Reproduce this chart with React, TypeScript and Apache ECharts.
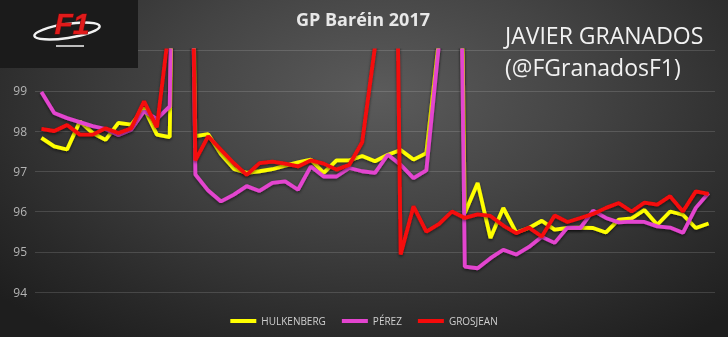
import React, { useEffect, useRef } from "react";
import * as echarts from "echarts";

const laps = [
  "1", "2", "3", "4", "5", "6", "7", "8", "9", "10",
  "11", "12", "13", "14", "15", "16", "17", "18", "19", "20",
  "21", "22", "23", "24", "25", "26", "27", "28", "29", "30",
  "31", "32", "33", "34", "35", "36", "37", "38", "39", "40",
  "41", "42", "43", "44", "45", "46", "47", "48", "49", "50",
  "51", "52", "53",
];

const hulkenberg = [
  97.83, 97.62, 97.54, 98.24, 97.95, 97.78, 98.2, 98.16, 98.57, 97.91,
  97.85, 120, 97.87, 97.92, 97.42, 97.06, 96.96, 97.0, 97.05, 97.14,
  97.22, 97.29, 96.96, 97.27, 97.27, 97.38, 97.25, 97.41, 97.53, 97.29,
  97.45, 100.3, 120, 95.96, 96.71, 95.34, 96.09, 95.48, 95.59, 95.77,
  95.55, 95.59, 95.6, 95.59, 95.48, 95.8, 95.83, 96.04, 95.67, 96.0,
  95.92, 95.59, 95.7,
];

const perez = [
  98.97, 98.45, 98.32, 98.22, 98.12, 98.05, 97.9, 98.03, 98.49, 98.3,
  98.61, 120, 96.92, 96.52, 96.25, 96.42, 96.63, 96.51, 96.71, 96.75,
  96.54, 97.12, 96.87, 96.87, 97.08, 97.0, 96.96, 97.41, 97.16, 96.83,
  97.02, 100.2, 120, 94.63, 94.59, 94.84, 95.05, 94.93, 95.12, 95.37,
  95.22, 95.6, 95.59, 96.02, 95.84, 95.73, 95.75, 95.74, 95.63, 95.6,
  95.47, 96.09, 96.46,
];

const grosjean = [
  98.05, 98.0, 98.15, 97.91, 97.91, 98.07, 97.95, 98.07, 98.74, 98.09,
  100.7, 120, 97.27, 97.87, 97.53, 97.2, 96.91, 97.2, 97.24, 97.19,
  97.12, 97.27, 97.19, 97.04, 97.16, 97.72, 100.1, 120, 94.93, 96.13,
  95.5, 95.69, 96.0, 95.84, 95.93, 95.89, 95.65, 95.46, 95.6, 95.38,
  95.9, 95.74, 95.84, 95.94, 96.09, 96.21, 96.0, 96.22, 96.17, 96.38,
  96.0, 96.5, 96.44,
];

const seriesNames = ["HULKENBERG", "PÉREZ", "GROSJEAN"];
const seriesColors = ["#ffff00", "#e344cf", "#f50a0a"];
const yMin = 94;
const yMax = 100;
const yStep = 1;

export default function App() {
  const ref = useRef<HTMLDivElement>(null);

  useEffect(() => {
    if (!ref.current) return;
    const chart = echarts.init(ref.current, null, { renderer: "svg" });
    const dataSets = [hulkenberg, perez, grosjean];
    chart.setOption({
      animation: false,
      backgroundColor: "transparent",
      grid: { left: 35, right: 13, top: 50.5, bottom: 45, containLabel: false },
      xAxis: {
        type: "category",
        data: laps,
        boundaryGap: true,
        axisLine: { show: false },
        axisTick: { show: false },
        axisLabel: { show: false },
        splitLine: { show: false },
      },
      yAxis: {
        type: "value",
        min: yMin,
        max: yMax,
        interval: yStep,
        axisLine: { show: false },
        axisTick: { show: false },
        axisLabel: {
          showMaxLabel: false,
          color: "#b4b4b4",
          fontSize: 12,
          fontFamily: "Open Sans",
          margin: 8,
        },
        splitLine: { lineStyle: { color: "rgba(255,255,255,0.14)", width: 1 } },
      },
      legend: {
        top: 311,
        left: "center",
        icon: "rect",
        itemWidth: 26,
        itemHeight: 4,
        itemGap: 16,
        textStyle: { color: "#cfcfcf", fontSize: 10, fontFamily: "Open Sans" },
        data: seriesNames,
      },
      series: seriesNames.map((name, k) => ({
        name,
        type: "line",
        data: dataSets[k],
        symbol: "none",
        clip: true,
        color: seriesColors[k],
        lineStyle: {
          color: seriesColors[k],
          width: 3.8,
          shadowColor: "rgba(0,0,0,0.55)",
          shadowBlur: 3,
          shadowOffsetY: 1.5,
        },
      })),
      graphic: [
        {
          type: "rect",
          z: 100,
          shape: { x: 0, y: 0, width: 138, height: 68 },
          style: { fill: "#1b1b1b" },
        },
        {
          type: "ellipse",
          z: 101,
          x: 67,
          y: 31,
          rotation: 0.15,
          shape: { cx: 0, cy: 0, rx: 33, ry: 7 },
          style: { fill: "none", stroke: "#f2f2f2", lineWidth: 2.5 },
        },
        {
          type: "text",
          z: 102,
          x: 72,
          y: 23,
          style: {
            text: "F1",
            font: "italic bold 30px 'Liberation Sans'",
            fill: "#e01b1b",
            stroke: "#7a0a0a",
            lineWidth: 1,
            align: "center",
            verticalAlign: "middle",
          },
        },
        {
          type: "rect",
          z: 102,
          shape: { x: 56, y: 45, width: 28, height: 2 },
          style: { fill: "#bdbdbd" },
        },
        {
          type: "text",
          z: 50,
          x: 363,
          y: 10,
          style: {
            text: "GP Baréin 2017",
            font: "bold 18px 'Open Sans'",
            fill: "#e8e8e8",
            align: "center",
            verticalAlign: "top",
          },
        },
        {
          type: "text",
          z: 50,
          x: 505,
          y: 23,
          style: {
            text: "JAVIER GRANADOS",
            font: "23px 'Open Sans'",
            fill: "#f2f2f2",
            align: "left",
            verticalAlign: "top",
          },
        },
        {
          type: "text",
          z: 50,
          x: 505,
          y: 55,
          style: {
            text: "(@FGranadosF1)",
            font: "23px 'Open Sans'",
            fill: "#f2f2f2",
            align: "left",
            verticalAlign: "top",
          },
        },
      ],
    });
    return () => chart.dispose();
  }, []);

  return (
    <div
      style={{
        position: "fixed",
        left: 0,
        top: 0,
        width: 728,
        height: 337,
        background:
          "radial-gradient(ellipse 70% 90% at 52% 28%, #5b5b5b 0%, #444444 40%, #2a2a2a 80%, #1e1e1e 100%)",
      }}
    >
      <div ref={ref} style={{ width: 728, height: 337 }} />
    </div>
  );
}
